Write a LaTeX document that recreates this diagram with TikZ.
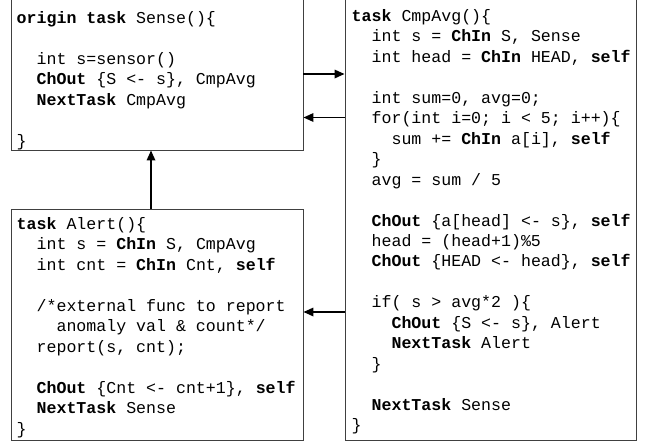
\documentclass[tikz,border=0pt]{standalone}
\usepackage{fontspec}
\newfontfamily\codefont{Liberation Mono}
\usetikzlibrary{arrows.meta}
\tikzset{
  taskbox/.style={draw=black!75, line width=0.9pt, rectangle, inner sep=0pt},
  code/.style={inner sep=0pt, anchor=base west, font=\codefont\fontsize{16.6}{20.45}\selectfont\frenchspacing},
  flow/.style={line width=1.7pt, -{Triangle[length=10pt,width=8.5pt]}}
}
\newcommand{\kw}[1]{\textbf{#1}}
\begin{document}
\begin{tikzpicture}[x=1pt,y=-1pt]
\useasboundingbox (0,0) rectangle (647,442);
% boxes
\node[taskbox, minimum width=292pt, minimum height=158pt] (sense) at (157,71) {};
\node[taskbox, minimum width=291pt, minimum height=448pt] (cmp) at (490.5,216) {};
\node[taskbox, minimum width=292pt, minimum height=231pt] (alert) at (157,324.5) {};
% code
\renewcommand{\arraystretch}{1}
\node[code] (senseTxt) at (16.5,23.5) {\begin{tabular}[t]{@{}l@{}}
\kw{origin task} Sense()\{\\
\\
~~int s=sensor()\\
~~\kw{ChOut} \{S <- s\}, CmpAvg\\
~~\kw{NextTask} CmpAvg\\
\\
\}
\end{tabular}};
\node[code] (alertTxt) at (16.5,229.5) {\begin{tabular}[t]{@{}l@{}}
\kw{task} Alert()\{\\
~~int s = \kw{ChIn} S, CmpAvg\\
~~int cnt = \kw{ChIn} Cnt, \kw{self}\\
\\
~~/*external func to report\\
~~~~anomaly val \& count*/\\
~~report(s, cnt);\\
\\
~~\kw{ChOut} \{Cnt <- cnt+1\}, \kw{self}\\
~~\kw{NextTask} Sense\\
\}
\end{tabular}};
\node[code] (cmpTxt) at (351.5,21.5) {\begin{tabular}[t]{@{}l@{}}
\kw{task} CmpAvg()\{\\
~~int s = \kw{ChIn} S, Sense\\
~~int head = \kw{ChIn} HEAD, \kw{self}\\
\\
~~int sum=0, avg=0;\\
~~for(int i=0; i < 5; i++)\{\\
~~~~sum += \kw{ChIn} a[i], \kw{self}\\
~~\}\\
~~avg = sum / 5\\
\\
~~\kw{ChOut} \{a[head] <- s\}, \kw{self}\\
~~head = (head+1)\%5\\
~~\kw{ChOut} \{HEAD <- head\}, \kw{self}\\
\\
~~if( s > avg*2 )\{\\
~~~~\kw{ChOut} \{S <- s\}, Alert\\
~~~~\kw{NextTask} Alert\\
~~\}\\
\\
~~\kw{NextTask} Sense\\
\}
\end{tabular}};
% connectors
\coordinate (y1) at (0,74);
\coordinate (y2) at (0,117.5);
\coordinate (y3) at (0,312);
\coordinate (x1) at (151,0);
\draw[flow] (sense.east |- y1) -- (cmp.west |- y1);
\draw[flow] (cmp.west |- y2) -- (sense.east |- y2);
\draw[flow] (cmp.west |- y3) -- (alert.east |- y3);
\draw[flow] (alert.north -| x1) -- (sense.south -| x1);
\end{tikzpicture}
\end{document}
